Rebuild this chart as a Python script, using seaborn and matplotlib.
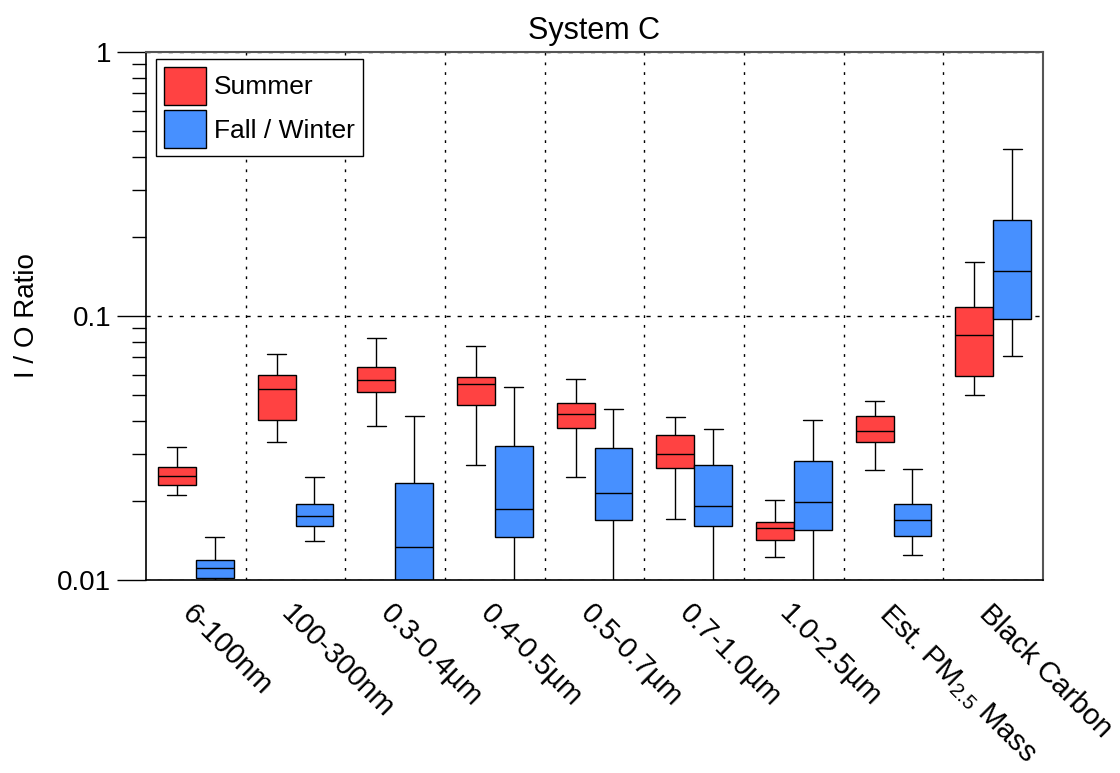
import numpy as np
import pandas as pd
import matplotlib
matplotlib.use("Agg")
import matplotlib.pyplot as plt
import seaborn as sns
from matplotlib.ticker import FixedLocator, NullFormatter, LogLocator
from matplotlib.patches import Patch

categories = ["6-100nm", "100-300nm", "0.3-0.4µm", "0.4-0.5µm", "0.5-0.7µm",
              "0.7-1.0µm", "1.0-2.5µm", "Est. PM$_{2.5}$ Mass", "Black Carbon"]
seasons = ["Summer", "Fall / Winter"]

summer_low = [0.0209, 0.0334, 0.0382, 0.0272, 0.0245, 0.0170, 0.0122, 0.0261, 0.0503]
summer_q1 = [0.0229, 0.0402, 0.0515, 0.0459, 0.0378, 0.0266, 0.0142, 0.0334, 0.0593]
summer_med = [0.0248, 0.0531, 0.0570, 0.0555, 0.0424, 0.0300, 0.0158, 0.0366, 0.0845]
summer_q3 = [0.0267, 0.0596, 0.0640, 0.0585, 0.0468, 0.0354, 0.0166, 0.0417, 0.1085]
summer_high = [0.0319, 0.0717, 0.0825, 0.0773, 0.0575, 0.0416, 0.0201, 0.0475, 0.1595]

winter_low = [0.0085, 0.0141, 0.0060, 0.0080, 0.0080, 0.0080, 0.0099, 0.0124, 0.0704]
winter_q1 = [0.0102, 0.0160, 0.0090, 0.0145, 0.0169, 0.0160, 0.0154, 0.0147, 0.0974]
winter_med = [0.0111, 0.0174, 0.0133, 0.0186, 0.0214, 0.0191, 0.0197, 0.0169, 0.1484]
winter_q3 = [0.0119, 0.0194, 0.0233, 0.0322, 0.0315, 0.0273, 0.0282, 0.0194, 0.2305]
winter_high = [0.0145, 0.0245, 0.0419, 0.0537, 0.0446, 0.0374, 0.0403, 0.0263, 0.4288]

colors = {"Summer": "#FF4242", "Fall / Winter": "#4790FF"}

rows = []
for season, stats in [("Summer", [summer_low, summer_q1, summer_med, summer_q3, summer_high]),
                      ("Fall / Winter", [winter_low, winter_q1, winter_med, winter_q3, winter_high])]:
    for i, cat in enumerate(categories):
        for s in stats:
            rows.append({"category": cat, "season": season, "value": s[i]})
df = pd.DataFrame(rows)

sns.set_style("ticks")
plt.rcParams["font.family"] = ["Liberation Sans", "DejaVu Sans"]
plt.rcParams["mathtext.fontset"] = "custom"
plt.rcParams["mathtext.rm"] = "Liberation Sans"
plt.rcParams["mathtext.it"] = "Liberation Sans"
for key in ["text.color", "axes.labelcolor", "xtick.color", "ytick.color"]:
    plt.rcParams[key] = "black"

fig = plt.figure(figsize=(11.2, 7.73), dpi=100)
ax = fig.add_axes([146 / 1120, 1 - 580 / 773, (1043 - 146) / 1120, (580 - 52) / 773])

sns.boxplot(data=df, x="category", y="value", hue="season", order=categories,
            hue_order=seasons, palette=colors, log_scale=True, whis=np.inf,
            width=0.76, gap=0, linecolor="black", linewidth=1.0, saturation=1,
            legend=False, ax=ax)

ax.set_ylim(0.01, 1)
ax.set_xlim(-0.5, len(categories) - 0.5)
ax.yaxis.set_major_locator(FixedLocator([0.01, 0.1, 1]))
ax.set_yticklabels(["0.01", "0.1", "1"])
ax.yaxis.set_minor_locator(LogLocator(base=10, subs=np.arange(2, 10)))
ax.yaxis.set_minor_formatter(NullFormatter())
ax.tick_params(axis="y", which="major", direction="out", length=21, width=1, labelsize=20, pad=4)
ax.tick_params(axis="y", which="minor", direction="out", length=10, width=1)

ax.xaxis.set_minor_locator(FixedLocator(np.arange(0.5, len(categories) - 0.5, 1)))
ax.tick_params(axis="x", which="both", length=0, labelsize=21, pad=14)
for lbl in ax.get_xticklabels():
    lbl.set_rotation(-45)
    lbl.set_ha("left")
    lbl.set_va("top")
    lbl.set_rotation_mode("anchor")

ax.grid(which="minor", axis="x", color="black", linestyle=(0, (2, 5)), linewidth=1)
ax.grid(which="major", axis="y", color="black", linestyle=(0, (3, 5)), linewidth=1)
ax.grid(which="major", axis="x", visible=False)
ax.set_axisbelow(True)

for side in ["top", "right"]:
    ax.spines[side].set_visible(True)
    ax.spines[side].set_color("#555555")
    ax.spines[side].set_linewidth(1.5)
for side in ["left", "bottom"]:
    ax.spines[side].set_color("black")
    ax.spines[side].set_linewidth(1.2)

ax.set_xlabel("")
ax.set_ylabel("I / O Ratio", fontsize=20, labelpad=12)
ax.set_title("System C", fontsize=22, pad=9)

handles = [Patch(facecolor=colors[s], edgecolor="black", linewidth=1) for s in seasons]
leg = ax.legend(handles, seasons, loc="upper left", bbox_to_anchor=(0.011, 0.987),
                fontsize=19, frameon=True, fancybox=False, edgecolor="black",
                framealpha=1, handlelength=1.6, handleheight=1.85, handletextpad=0.3,
                labelspacing=0.2, borderpad=0.3, borderaxespad=0)
leg.get_frame().set_linewidth(1)

fig.savefig("out.png", dpi=100)
